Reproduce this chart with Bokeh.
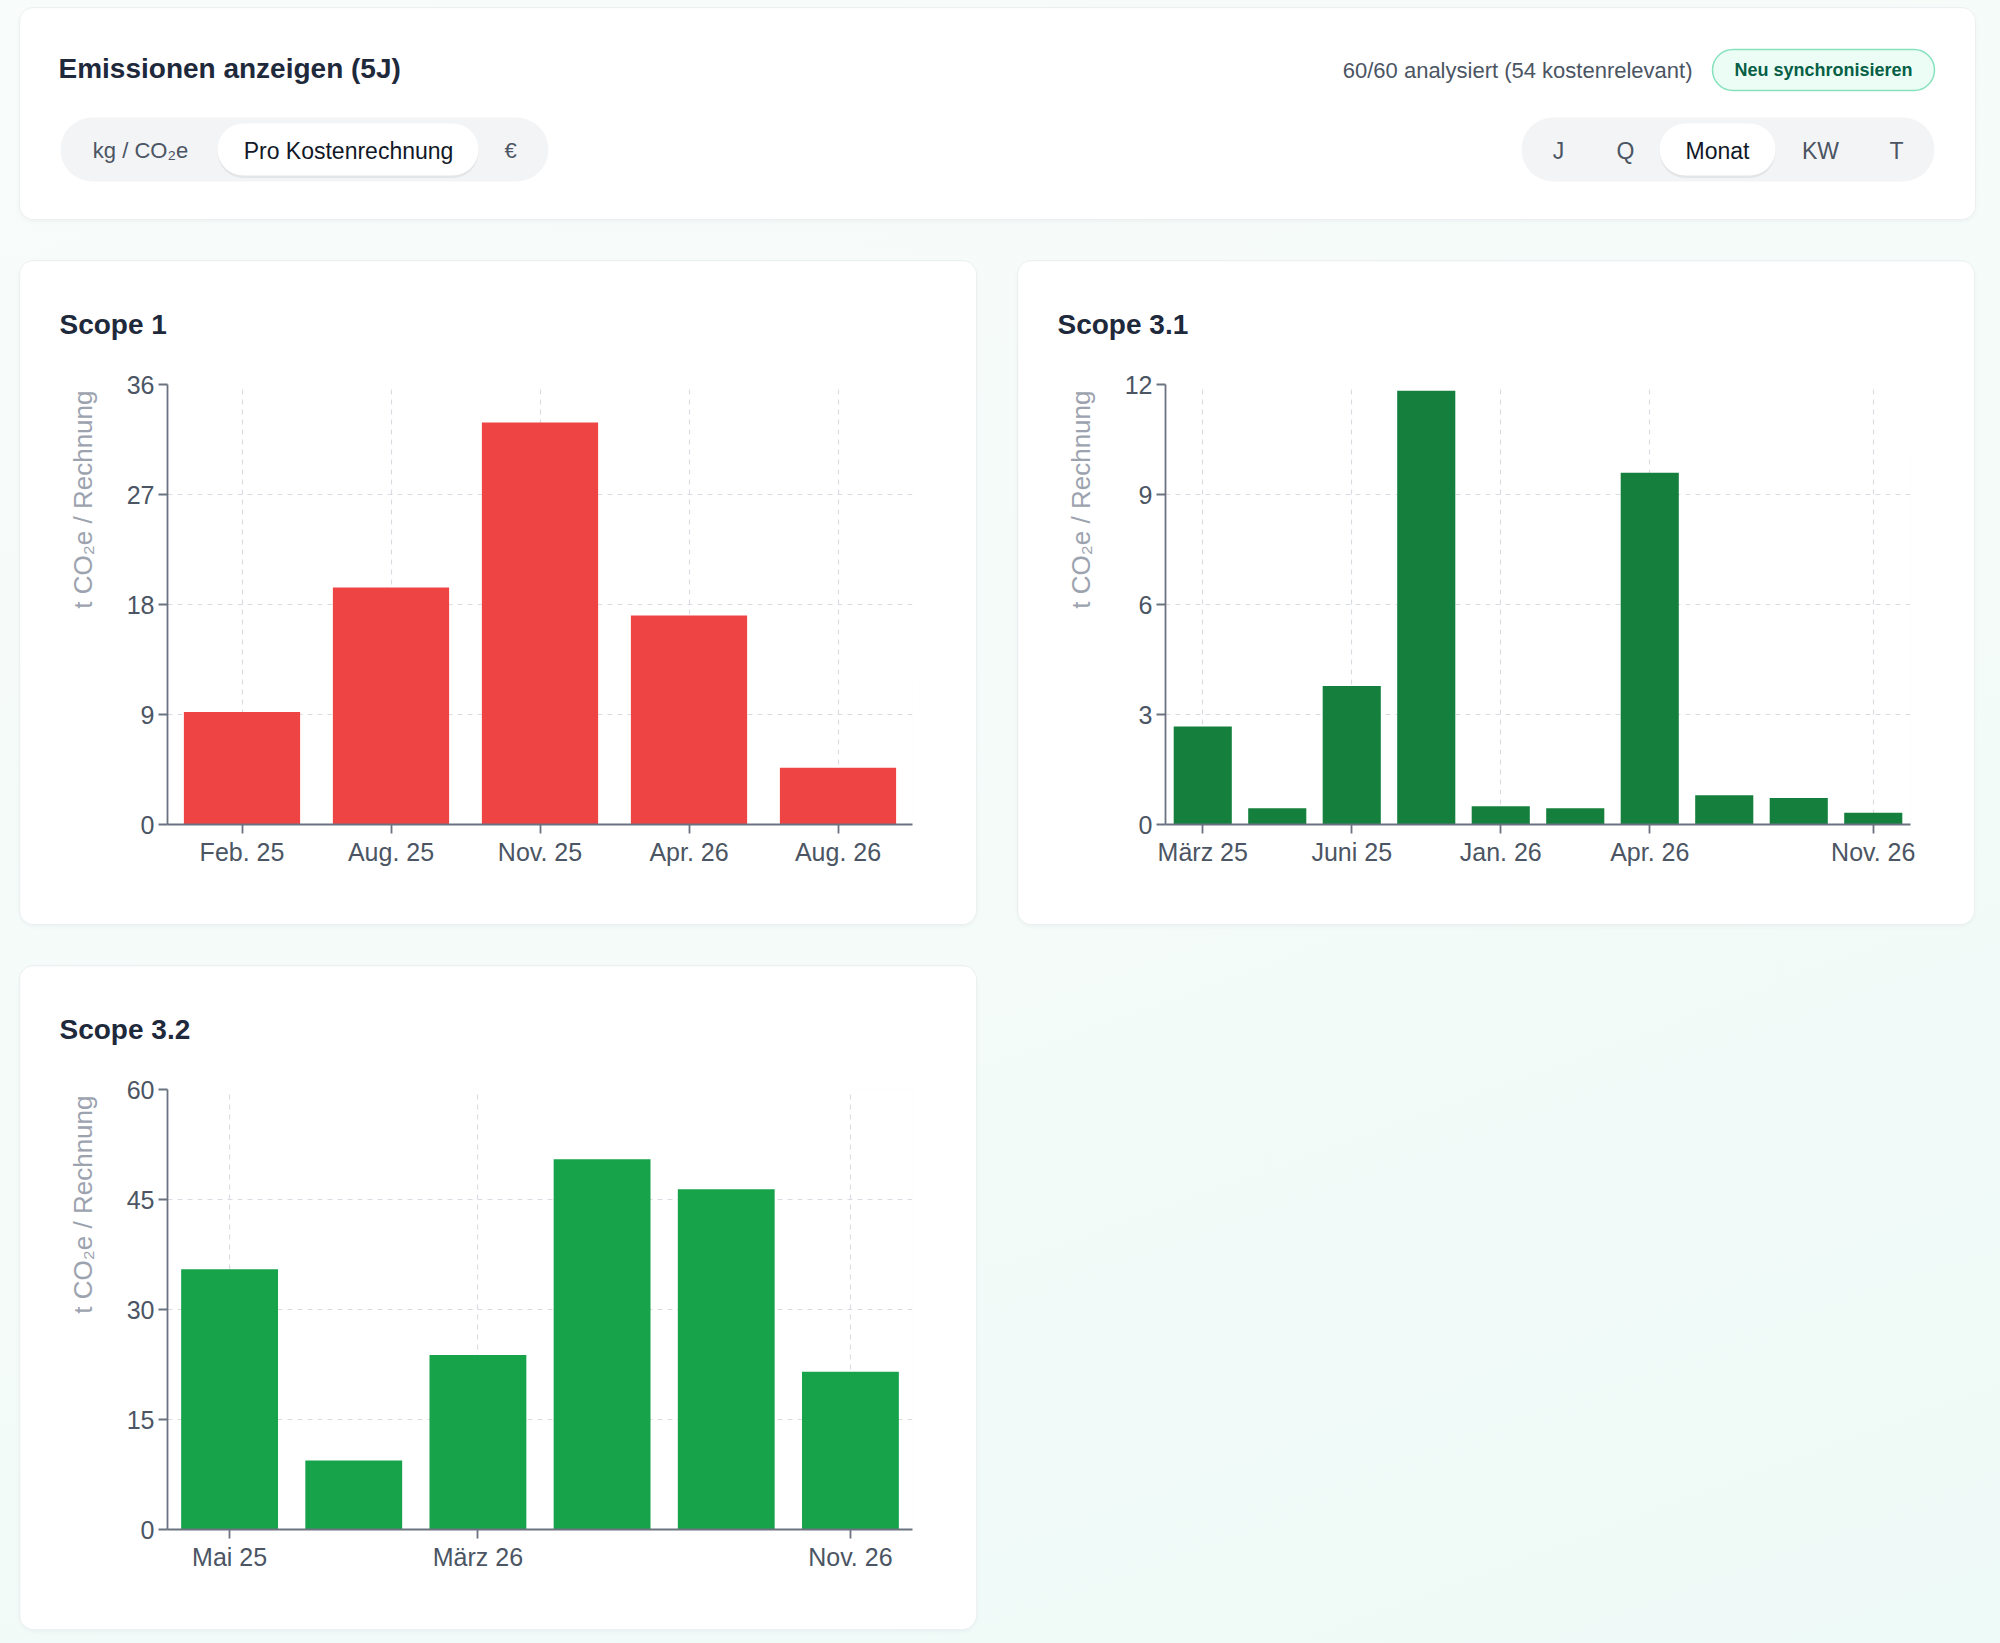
from bokeh.plotting import figure
from bokeh.layouts import column, row
from bokeh.models import Range1d, FixedTicker, ColumnDataSource, Title
from bokeh.core.properties import value
from bokeh.embed import file_html
from bokeh.resources import INLINE

# ---- data -------------------------------------------------------------
scope1_months = ["Feb. 25", "Aug. 25", "Nov. 25", "Apr. 26", "Aug. 26"]
scope1_values = [9.2, 19.4, 32.9, 17.1, 4.65]
scope1_labeled = ["Feb. 25", "Aug. 25", "Nov. 25", "Apr. 26", "Aug. 26"]
scope1_yticks = [0, 9, 18, 27, 36]

scope31_months = ["März 25", "Mai 25", "Juni 25", "Sep. 25", "Jan. 26",
                  "Feb. 26", "Apr. 26", "Juli 26", "Sep. 26", "Nov. 26"]
scope31_values = [2.67, 0.44, 3.78, 11.83, 0.50, 0.44, 9.59, 0.80, 0.72, 0.32]
scope31_labeled = ["März 25", "Juni 25", "Jan. 26", "Apr. 26", "Nov. 26"]
scope31_yticks = [0, 3, 6, 9, 12]

scope32_months = ["Mai 25", "Okt. 25", "März 26", "Juni 26", "Aug. 26", "Nov. 26"]
scope32_values = [35.5, 9.4, 23.8, 50.5, 46.4, 21.5]
scope32_labeled = ["Mai 25", "März 26", "Nov. 26"]
scope32_yticks = [0, 15, 30, 45, 60]

y_label = "t CO₂e / Rechnung"
unit_options = ["kg / CO₂e", "Pro Kostenrechnung", "€"]
period_options = ["J", "Q", "Monat", "KW", "T"]
status_text = "60/60 analysiert (54 kostenrelevant)"

# ---- styling ----------------------------------------------------------
FONT = "Liberation Sans"
DARK = "#1e293b"
MUTED = "#4b5563"
AXIS = "#6b7280"
GRID = "#d9dde3"

CARD_STYLES = {
    "border-radius": "14px",
    "overflow": "hidden",
    "box-shadow": "0 0 0 1px #edf0f2, 0 2px 5px rgba(15, 23, 42, 0.05)",
}


def header_card():
    W, H = 1955, 211
    p = figure(width=W, height=H, x_range=Range1d(0, W), y_range=Range1d(H, 0),
               x_axis_location=None, y_axis_location=None,
               output_backend="svg", toolbar_location=None, min_border=0,
               outline_line_color=None, background_fill_color="white",
               border_fill_color="white", styles=CARD_STYLES, margin=(8, 0, 0, 20))
    p.frame_align = False
    p.grid.visible = False

    txt = dict(text_font=value(FONT), text_baseline="middle")

    p.text(x=[38], y=[60], text=["Emissionen anzeigen (5J)"], text_align="left",
           text_font_size="28px", text_font_style="bold", text_color=DARK, **txt)

    # unit toggle
    p.quad(left=[40], right=[528], top=[109], bottom=[173], fill_color="#f3f4f6",
           line_color=None, border_radius=32)
    p.quad(left=[197], right=[458], top=[116.5], bottom=[169.5], fill_color="#000000",
           fill_alpha=0.06, line_color=None, border_radius=26)
    p.quad(left=[197], right=[458], top=[115], bottom=[167], fill_color="white",
           line_color=None, border_radius=26)
    unit_x = [120, 328, 490]
    for lbl, x in zip(unit_options, unit_x):
        active = lbl == "Pro Kostenrechnung"
        p.text(x=[x], y=[142], text=[lbl], text_align="center",
               text_font_size="23px" if active else "22px",
               text_color="#111827" if active else MUTED, **txt)

    # status + sync button
    p.text(x=[1672], y=[62], text=[status_text], text_align="right",
           text_font_size="22px", text_color=MUTED, **txt)
    p.quad(left=[1692], right=[1914], top=[41], bottom=[82], fill_color="#ecfdf5",
           line_color="#86e2bd", line_width=1.5, border_radius=21)
    p.text(x=[1803], y=[61.5], text=["Neu synchronisieren"], text_align="center",
           text_font_size="18px", text_font_style="bold", text_color="#065f46", **txt)

    # period toggle
    p.quad(left=[1501], right=[1914], top=[109], bottom=[173], fill_color="#f3f4f6",
           line_color=None, border_radius=32)
    p.quad(left=[1639], right=[1755], top=[116.5], bottom=[169.5], fill_color="#000000",
           fill_alpha=0.06, line_color=None, border_radius=26)
    p.quad(left=[1639], right=[1755], top=[115], bottom=[167], fill_color="white",
           line_color=None, border_radius=26)
    period_x = [1538, 1605, 1697, 1800, 1876]
    for lbl, x in zip(period_options, period_x):
        active = lbl == "Monat"
        p.text(x=[x], y=[142], text=[lbl], text_align="center", text_font_size="23px",
               text_color="#111827" if active else MUTED, **txt)
    return p


def bar_card(title, months, values, labeled, yticks, color, margin):
    n = len(months)
    p = figure(width=956, height=663, title=title,
               x_range=Range1d(-0.5, n - 0.5), y_range=Range1d(0, yticks[-1]),
               output_backend="svg", toolbar_location=None,
               min_border_left=147, min_border_right=64,
               min_border_top=122, min_border_bottom=100,
               outline_line_color=None, background_fill_color="white",
               border_fill_color="white", styles=CARD_STYLES, margin=margin)

    p.title.align = "left"
    p.title.offset = -108
    p.title.standoff = 90
    p.title.text_font = FONT
    p.title.text_font_size = "28px"
    p.title.text_font_style = "bold"
    p.title.text_color = DARK

    # value-axis caption, anchored at the top end of the axis
    p.add_layout(Title(text=y_label, align="right", standoff=52, offset=6,
                       text_font=FONT, text_font_size="26px",
                       text_font_style="normal", text_color="#9ca3af"), "left")

    src = ColumnDataSource(dict(x=list(range(n)), top=values, month=months))
    p.vbar(x="x", top="top", width=0.78, source=src, fill_color=color, line_color=None)

    tick_idx = [months.index(m) for m in labeled]
    p.xaxis.ticker = FixedTicker(ticks=tick_idx)
    p.xaxis.major_label_overrides = {i: m for i, m in enumerate(months)}
    p.yaxis.ticker = FixedTicker(ticks=yticks)

    p.xgrid.ticker = FixedTicker(ticks=tick_idx + [n - 0.5])
    p.ygrid.ticker = FixedTicker(ticks=yticks)
    for g in (p.xgrid, p.ygrid):
        g.grid_line_color = GRID
        g.grid_line_dash = "5 5"
        g.grid_line_width = 1.2

    for ax in (p.xaxis, p.yaxis):
        ax.axis_line_color = AXIS
        ax.axis_line_width = 1.8
        ax.major_tick_line_color = AXIS
        ax.major_tick_line_width = 1.8
        ax.major_tick_out = 9
        ax.major_tick_in = 0
        ax.minor_tick_line_color = None
        ax.major_label_text_font = FONT
        ax.major_label_text_font_size = "25px"
        ax.major_label_text_color = MUTED
        ax.major_label_standoff = 4
    return p


header = header_card()
s1 = bar_card("Scope 1", scope1_months, scope1_values, scope1_labeled,
              scope1_yticks, "#ef4444", (0, 0, 0, 0))
s31 = bar_card("Scope 3.1", scope31_months, scope31_values, scope31_labeled,
               scope31_yticks, "#15803d", (0, 0, 0, 0))
s32 = bar_card("Scope 3.2", scope32_months, scope32_values, scope32_labeled,
               scope32_yticks, "#16a34a", (0, 0, 0, 20))

charts_row = row(s1, s31, spacing=42, margin=(0, 0, 0, 20))
page = column(header, charts_row, s32, spacing=42, width=2000, height=1643,
              styles={"background": "linear-gradient(160deg, #f8fcfb 0%, #f4fbf9 55%, #eefaf7 100%)"})

open("out.html", "w").write(file_html(page, INLINE))
